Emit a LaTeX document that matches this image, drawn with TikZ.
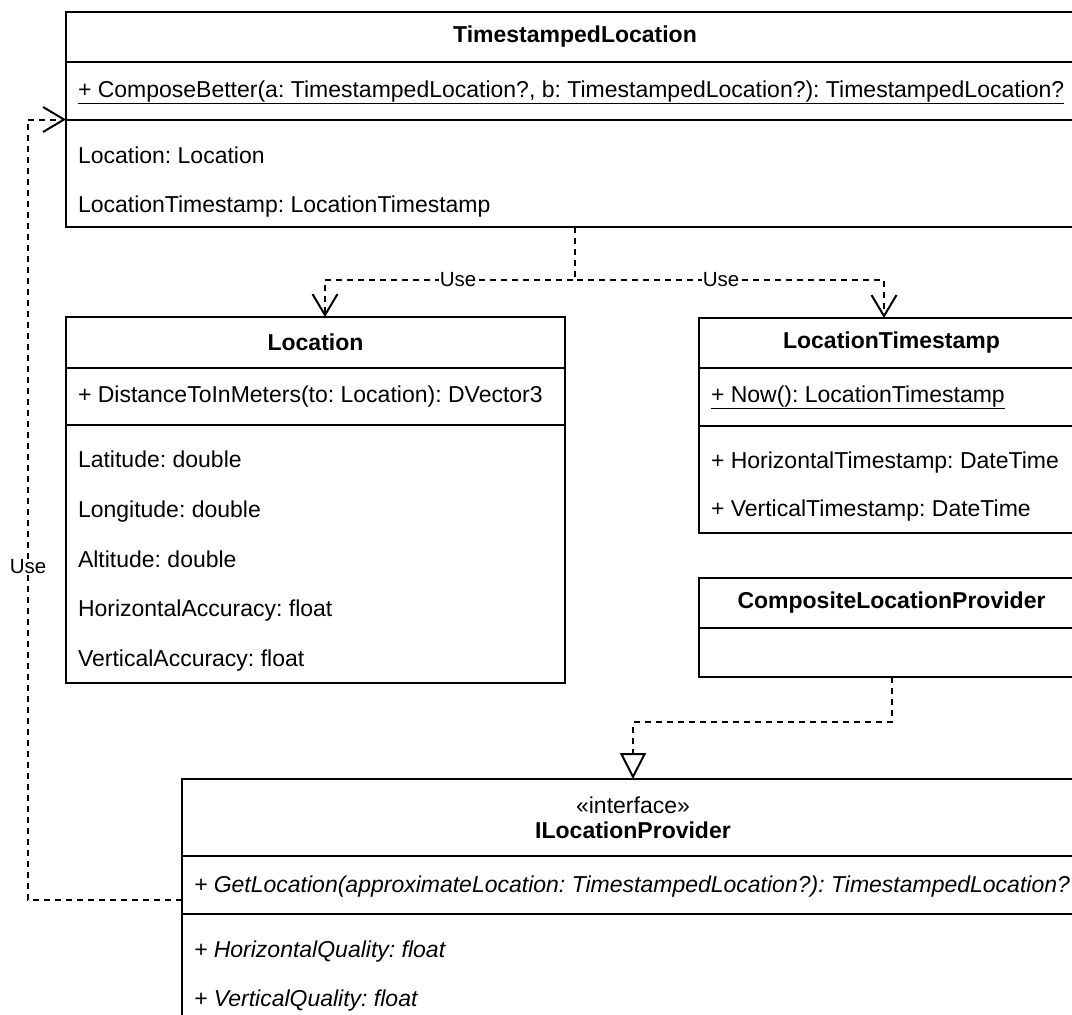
\documentclass[tikz,border=0pt]{standalone}
\usepackage{fontspec}
\setmainfont{Liberation Sans}
\usetikzlibrary{arrows.meta}
\frenchspacing

\begin{document}
\begin{tikzpicture}[x=1pt,y=-1pt,line width=2pt,
  font=\fontsize{23}{27}\selectfont,
  classbox/.style={draw, fill=white, anchor=north west, inner sep=0pt, outer sep=0pt},
  title/.style={font=\fontsize{23}{27}\selectfont\bfseries, inner sep=0pt},
  row/.style={anchor=west, inner sep=0pt, text height=16.5pt, text depth=0pt},
  depline/.style={dash pattern=on 6pt off 5pt, -{Straight Barb[length=21pt,width=25pt]}},
  realline/.style={dash pattern=on 6pt off 5pt, -{Triangle[length=26pt,width=26pt,fill=white]}},
  uselabel/.style={fill=white, inner sep=1pt, font=\fontsize{20.5}{24}\selectfont}]

\useasboundingbox (0,0) rectangle (1072,1015);
\clip (0,0) rectangle (1072,1015);

% classes
\node[classbox, minimum width=1018pt, minimum height=215pt] (tl) at (66,12) {};
\draw (tl.north west) ++(0,50) -- ++(1018,0);
\draw (tl.north west) ++(0,107.5) -- ++(1018,0);

\node[classbox, minimum width=499pt, minimum height=366pt] (loc) at (66,317) {};
\draw (loc.north west) ++(0,51) -- ++(499,0);
\draw (loc.north west) ++(0,108) -- ++(499,0);

\node[classbox, minimum width=385pt, minimum height=215pt] (lts) at (699,318) {};
\draw (lts.north west) ++(0,50) -- ++(385,0);
\draw (lts.north west) ++(0,108) -- ++(385,0);

\node[classbox, minimum width=385pt, minimum height=99pt] (clp) at (699,578) {};
\draw (clp.north west) ++(0,50) -- ++(385,0);

\node[classbox, minimum width=902pt, minimum height=300pt] (ilp) at (182,779) {};
\draw (ilp.north west) ++(0,77) -- ++(902,0);
\draw (ilp.north west) ++(0,134.5) -- ++(902,0);

% connectors
\draw[depline] (tl.south) |- ([xshift=9.5pt,yshift=37pt]loc.north) -- ([xshift=9.5pt]loc.north);
\draw[depline] (tl.south) |- ([xshift=-7.5pt,yshift=38pt]lts.north) -- ([xshift=-7.5pt]lts.north);
\draw[realline] (clp.south) |- ([yshift=57pt]ilp.north) -- (ilp.north);
\draw[depline] ([yshift=-121pt]ilp.north west) -- ++(-154,0) |- ([yshift=-107.5pt]tl.north west);

\node[uselabel] (use1) at (458,280) {Use};
\node[uselabel] (use2) at (721,280) {Use};
\node[uselabel] (use3) at (28,567) {Use};

% texts
\node[title] (tl-name) at (575,37) {TimestampedLocation};
\node[row] (tl-m) at (77,89) {\underline{+ ComposeBetter(a: TimestampedLocation?, b: TimestampedLocation?): TimestampedLocation?}};
\node[row] (tl-a1) at (77,155) {Location: Location};
\node[row] (tl-a2) at (77,204) {LocationTimestamp: LocationTimestamp};

\node[title] (loc-name) at (315.5,342) {Location};
\node[row] (loc-m) at (77,394) {+ DistanceToInMeters(to: Location): DVector3};
\node[row] (loc-a1) at (77,459) {Latitude: double};
\node[row] (loc-a2) at (77,509) {Longitude: double};
\node[row] (loc-a3) at (77,559) {Altitude: double};
\node[row] (loc-a4) at (77,608) {HorizontalAccuracy: float};
\node[row] (loc-a5) at (77,658) {VerticalAccuracy: float};

\node[title] (lts-name) at (891.5,343) {LocationTimestamp};
\node[row] (lts-m) at (710,394) {\underline{+ Now(): LocationTimestamp}};
\node[row] (lts-a1) at (710,460) {+ HorizontalTimestamp: DateTime};
\node[row] (lts-a2) at (710,508) {+ VerticalTimestamp: DateTime};

\node[title] (clp-name) at (891.5,603) {CompositeLocationProvider};

\node[inner sep=0pt] (ilp-st) at (633,805) {«interface»};
\node[title] (ilp-name) at (633,830) {ILocationProvider};
\node[row] (ilp-m) at (193,884) {\textit{+ GetLocation(approximateLocation: TimestampedLocation?): TimestampedLocation?}};
\node[row] (ilp-a1) at (193,949) {\textit{+ HorizontalQuality: float}};
\node[row] (ilp-a2) at (193,998) {\textit{+ VerticalQuality: float}};

\end{tikzpicture}
\end{document}
